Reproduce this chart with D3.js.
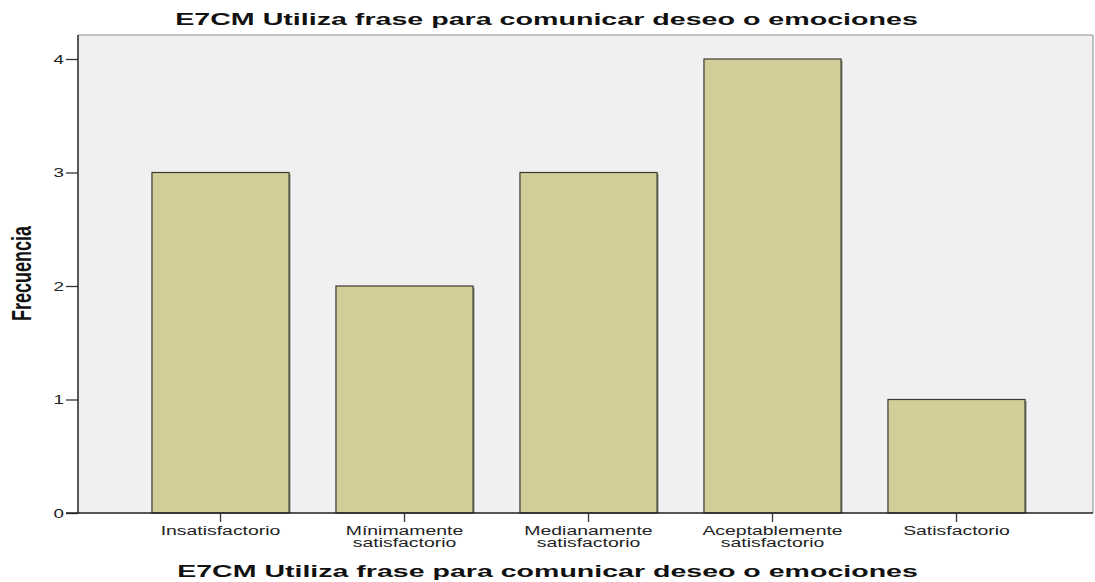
<!DOCTYPE html>
<html>
<head>
<meta charset="utf-8">
<script src="https://cdn.jsdelivr.net/npm/d3@7"></script>
<style>
  body { margin: 0; background: #fff; }
  text { font-family: "Liberation Sans", Arial, sans-serif; }
</style>
</head>
<body>
<div id="chart"></div>
<script>
// categories and counts
const categories = ["Insatisfactorio", "Mínimamente satisfactorio", "Medianamente satisfactorio",
    "Aceptablemente satisfactorio", "Satisfactorio"];
const labelLines = [["Insatisfactorio"], ["Mínimamente", "satisfactorio"], ["Medianamente", "satisfactorio"],
    ["Aceptablemente", "satisfactorio"], ["Satisfactorio"]];
const counts = [3, 2, 3, 4, 1];
const yTicks = [0, 1, 2, 3, 4];
const chartTitle = "E7CM Utiliza frase para comunicar deseo o emociones";

const width = 1095, height = 582;
const plot = { left: 78, right: 1093, top: 35, bottom: 513 };
// the original picture is stretched sideways, so text is drawn wider than tall
const STRETCH = 1.57;

let svg = d3.select("#chart")
    .append("svg")
    .attr("width", width)
    .attr("height", height);

let y = d3.scaleLinear()
    .domain([0, 4])
    .range([plot.bottom, 59]);

let x = d3.scaleBand()
    .domain(categories)
    .range([128.5, 1048.5])
    .paddingInner(0.255)
    .paddingOuter(0.1275);

// plot background
svg.append("rect")
    .attr("x", plot.left)
    .attr("y", plot.top)
    .attr("width", plot.right - plot.left)
    .attr("height", plot.bottom - plot.top)
    .attr("fill", "#f0f0f0");

// top / right frame
svg.append("path")
    .attr("d", `M${plot.left},${plot.top}H${plot.right}V${plot.bottom}`)
    .attr("fill", "none")
    .attr("stroke", "#8a8a8a")
    .attr("stroke-width", 1);

// bars, with a soft shadow on the right side
let bars = svg.append("g");
bars.selectAll("rect.shadow")
    .data(counts)
    .enter()
    .append("rect")
    .attr("class", "shadow")
    .attr("x", (d, i) => x(categories[i]) + 1.5)
    .attr("y", d => y(d) + 1.5)
    .attr("width", x.bandwidth())
    .attr("height", d => y(0) - y(d) - 1.5)
    .attr("fill", "#8c8c80");

bars.selectAll("rect.bar")
    .data(counts)
    .enter()
    .append("rect")
    .attr("class", "bar")
    .attr("x", (d, i) => x(categories[i]))
    .attr("y", d => y(d))
    .attr("width", x.bandwidth())
    .attr("height", d => y(0) - y(d))
    .attr("fill", "#d3ce97")
    .attr("stroke", "#3a3a34")
    .attr("stroke-width", 1.2);

// y axis
let yAxis = svg.append("g")
    .attr("transform", `translate(${plot.left},0)`)
    .call(d3.axisLeft(y).tickValues(yTicks).tickSize(12).tickFormat(""));
yAxis.select(".domain").attr("stroke", "#222").attr("stroke-width", 1.5)
    .attr("d", `M0,${plot.top}V${plot.bottom}`);
yAxis.selectAll(".tick line").attr("stroke", "#333").attr("stroke-width", 1.3);

// y tick labels, stretched like the rest
svg.append("g").selectAll("text")
    .data(yTicks)
    .enter()
    .append("text")
    .attr("transform", d => `translate(64,${y(d) + 4.5}) scale(${STRETCH * 0.92},1)`)
    .attr("text-anchor", "end")
    .style("font-size", "13px")
    .attr("fill", "#222")
    .text(d => d);

// x axis
let xAxis = svg.append("g")
    .attr("transform", `translate(0,${plot.bottom})`)
    .call(d3.axisBottom(x).tickSize(9).tickFormat(""));
xAxis.select(".domain").attr("stroke", "#222").attr("stroke-width", 1.5)
    .attr("d", `M${plot.left - 12},0H${plot.right}`);
xAxis.selectAll(".tick line").attr("stroke", "#333").attr("stroke-width", 1.3);

// category labels (two lines where needed)
let catLabels = svg.append("g");
labelLines.forEach(function(lines, i) {
    lines.forEach(function(line, j) {
        catLabels.append("text")
            .attr("transform", `translate(${x(categories[i]) + x.bandwidth() / 2},${535 + j * 12}) scale(${STRETCH * 1.03},1)`)
            .attr("text-anchor", "middle")
            .style("font-size", "12px")
            .attr("fill", "#222")
            .text(line);
    });
});

// fit a bold heading to the width it has in the picture
function heading(cx, baseline, targetWidth) {
    let t = svg.append("text")
        .attr("text-anchor", "middle")
        .style("font-size", "17px")
        .style("font-weight", "bold")
        .attr("fill", "#111")
        .text(chartTitle);
    let sx = targetWidth / t.node().getComputedTextLength();
    t.attr("transform", `translate(${cx},${baseline}) scale(${sx},1)`);
}
heading(546.5, 24.5, 743);
heading(547.5, 576.5, 741);

// y axis title: rotated, so the sideways stretch makes it thick, not long
let yTitle = svg.append("text")
    .attr("text-anchor", "middle")
    .style("font-size", "18px")
    .style("font-weight", "bold")
    .attr("fill", "#111")
    .text("Frecuencia");
let ly = 95 / yTitle.node().getComputedTextLength();
yTitle.attr("transform", `translate(31,273.5) scale(${STRETCH},1) rotate(-90) scale(${ly},1)`);
</script>
</body>
</html>
